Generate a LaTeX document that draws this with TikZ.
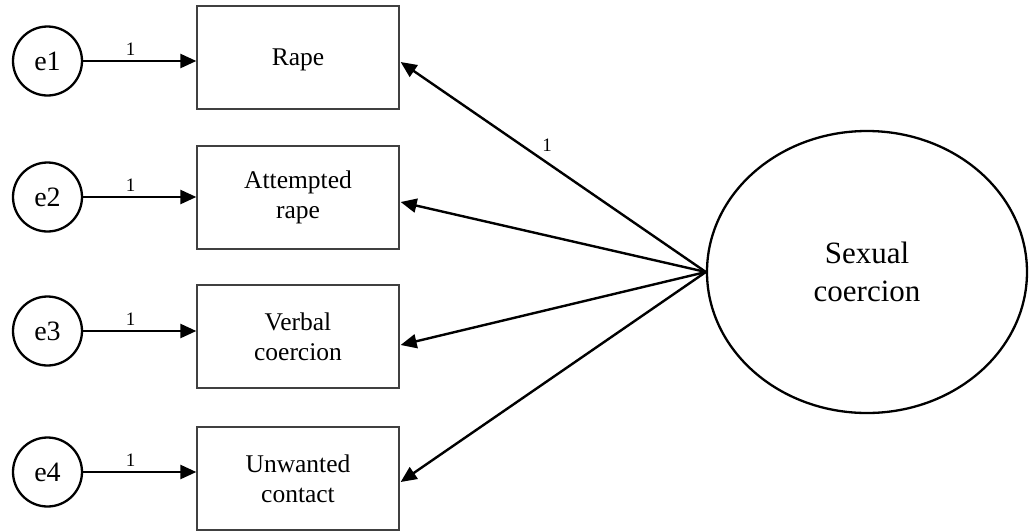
\documentclass[tikz,border=0pt]{standalone}
\usepackage{fontspec}
\setmainfont{Liberation Serif}
\usetikzlibrary{arrows.meta,shapes.geometric,calc}
\begin{document}
\begin{tikzpicture}[x=1pt,y=-1pt,
  indicator/.style={draw=black!75, line width=1.3pt, minimum width=202pt,
    minimum height=103pt, inner sep=0pt, align=center,
    font=\fontsize{25.5}{30}\selectfont},
  errterm/.style={circle, draw, line width=2.3pt, minimum size=69pt,
    inner sep=0pt, font=\fontsize{28}{32}\selectfont},
  latent/.style={ellipse, draw, line width=2.3pt, minimum width=320pt,
    minimum height=282pt, inner sep=0pt, align=center,
    font=\fontsize{31}{38}\selectfont},
  loading/.style={line width=2.4pt, -{Triangle[length=16pt,width=14pt]}},
  weight/.style={font=\fontsize{19}{19}\selectfont, inner sep=0pt}
]
\useasboundingbox (0,0) rectangle (1031,531);

% observed indicators
\node[indicator, text depth=0pt] (rape) at (298,57.5)  {Rape};
\node[indicator] (att)  at (298,197.5) {Attempted\\rape};
\node[indicator] (verb) at (298,336.5) {Verbal\\coercion};
\node[indicator] (unw)  at (298,478.5) {Unwanted\\contact};

% error terms
\node[errterm] (e1) at (47.5,61)  {e1};
\node[errterm] (e2) at (47.5,197) {e2};
\node[errterm] (e3) at (47.5,331) {e3};
\node[errterm] (e4) at (47.5,472) {e4};

% latent factor
\node[latent] (sc) at (867,272) {Sexual\\coercion};

% error paths
\foreach \e/\b in {e1/rape, e2/att, e3/verb, e4/unw}
  \draw[loading] (\e) -- (\e -| \b.west)
    node[weight, pos=0.42, above=4pt] {1};

% factor loadings
\draw[loading] (sc.west) -- ($(rape.east)+(1,4.5)$)
  node[weight, pos=0.52, above=10pt] {1};
\draw[loading] (sc.west) -- ($(att.east)+(1,4.5)$);
\draw[loading] (sc.west) -- ($(verb.east)+(1,8.5)$);
\draw[loading] (sc.west) -- ($(unw.east)+(1,3.5)$);
\end{tikzpicture}
\end{document}
